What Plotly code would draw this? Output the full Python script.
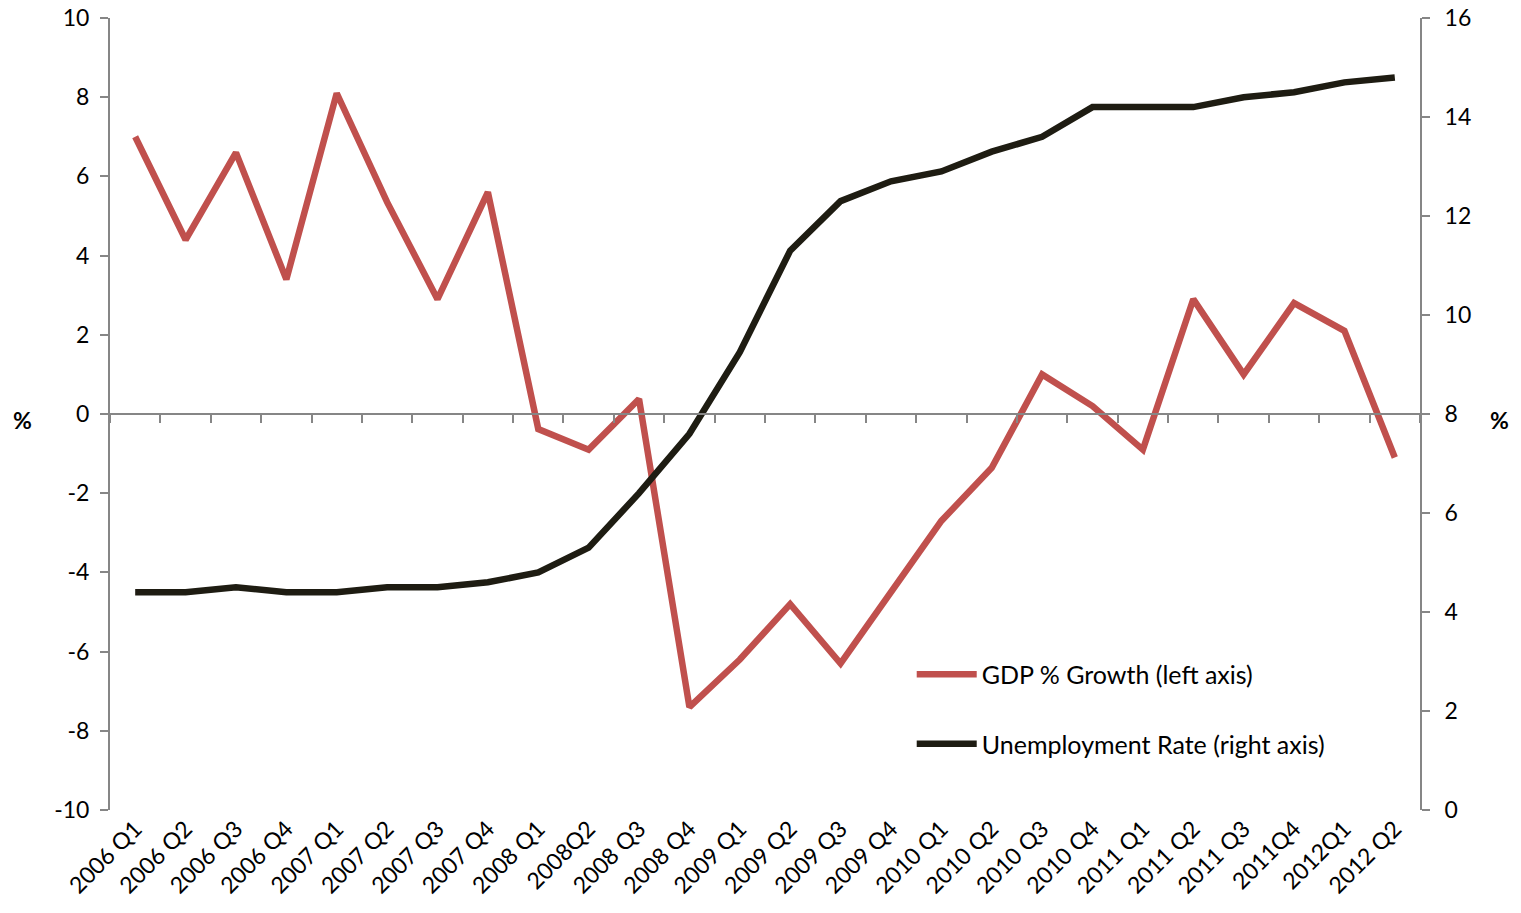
import plotly.graph_objects as go

quarters = [
    "2006 Q1", "2006 Q2", "2006 Q3", "2006 Q4",
    "2007 Q1", "2007 Q2", "2007 Q3", "2007 Q4",
    "2008 Q1", "2008Q2", "2008 Q3", "2008 Q4",
    "2009 Q1", "2009 Q2", "2009 Q3", "2009 Q4",
    "2010 Q1", "2010 Q2", "2010 Q3", "2010 Q4",
    "2011 Q1", "2011 Q2", "2011 Q3", "2011Q4",
    "2012Q1", "2012 Q2",
]
gdp_growth = [
    7.0, 4.4, 6.6, 3.4,
    8.1, 5.35, 2.9, 5.6,
    -0.38, -0.9, 0.38, -7.4,
    -6.2, -4.8, -6.3, -4.5,
    -2.7, -1.36, 1.0, 0.2,
    -0.9, 2.9, 1.0, 2.8,
    2.1, -1.1,
]
unemployment = [
    4.4, 4.4, 4.5, 4.4,
    4.4, 4.5, 4.5, 4.6,
    4.8, 5.3, 6.4, 7.6,
    9.25, 11.3, 12.3, 12.7,
    12.9, 13.3, 13.6, 14.2,
    14.2, 14.2, 14.4, 14.5,
    14.7, 14.8,
]
left_ticks = [-10, -8, -6, -4, -2, 0, 2, 4, 6, 8, 10]
right_ticks = [0, 2, 4, 6, 8, 10, 12, 14, 16]

FONT = "Lato"
AXIS_GREY = "#868686"
RED = "#C0504D"
DARK = "#1E1C12"
TICK_SIZE = 23

fig = go.Figure()
fig.add_trace(go.Scatter(
    x=quarters, y=gdp_growth, mode="lines",
    name="GDP % Growth (left axis)", legendgroup="gdp",
    line=dict(color=RED, width=6.5),
    xaxis="x", yaxis="y",
))
fig.add_trace(go.Scatter(
    x=quarters, y=unemployment, mode="lines",
    name="Unemployment Rate (right axis)", legendgroup="unemp",
    line=dict(color=DARK, width=6.5),
    xaxis="x2", yaxis="y2",
))

fig.update_layout(
    width=1521, height=913,
    margin=dict(l=110, r=101, t=18, b=103),
    paper_bgcolor="white", plot_bgcolor="white",
    font=dict(family=FONT, size=TICK_SIZE, color="black"),
    showlegend=True,
    legend=dict(
        x=0.612, y=0.2, xanchor="left", yanchor="top",
        bgcolor="rgba(0,0,0,0)",
        font=dict(family=FONT, size=25, color="black"),
        traceorder="grouped", tracegroupgap=34, itemwidth=60,
    ),
    xaxis=dict(
        type="category", categoryorder="array", categoryarray=quarters,
        range=[-0.5, len(quarters) - 0.5],
        showline=False, showgrid=False, zeroline=False,
        ticks="", tickangle=-45, tickfont=dict(family=FONT, size=TICK_SIZE),
        anchor="y", automargin=False,
    ),
    # category axis line crossing the left scale at zero
    xaxis2=dict(
        type="category", categoryorder="array", categoryarray=quarters,
        range=[-0.5, len(quarters) - 0.5],
        overlaying="x", anchor="free", position=0.5, side="bottom",
        showline=True, linecolor=AXIS_GREY, linewidth=2,
        ticks="outside", tickson="boundaries", ticklen=8, tickwidth=2,
        tickcolor=AXIS_GREY,
        showticklabels=False, showgrid=False, zeroline=False,
        automargin=False,
    ),
    yaxis=dict(
        range=[-10, 10],
        tickmode="array", tickvals=left_ticks,
        ticktext=[str(v) for v in left_ticks],
        showline=True, linecolor=AXIS_GREY, linewidth=2,
        ticks="outside", ticklen=8, tickwidth=2, tickcolor=AXIS_GREY,
        showgrid=False, zeroline=False,
        tickfont=dict(family=FONT, size=TICK_SIZE), ticklabelstandoff=6,
        anchor="x", automargin=False,
    ),
    yaxis2=dict(
        range=[0, 16],
        tickmode="array", tickvals=right_ticks,
        ticktext=[str(v) for v in right_ticks],
        overlaying="y", side="right", anchor="x2",
        showline=True, linecolor=AXIS_GREY, linewidth=2,
        ticks="outside", ticklen=8, tickwidth=2, tickcolor=AXIS_GREY,
        showgrid=False, zeroline=False,
        tickfont=dict(family=FONT, size=TICK_SIZE), ticklabelstandoff=10,
        automargin=False,
    ),
)

fig.add_annotation(
    text="<b>%</b>", x=-0.0755, y=0.492, xref="paper", yref="paper",
    showarrow=False, font=dict(family=FONT, size=23),
)
fig.add_annotation(
    text="<b>%</b>", x=1.0695, y=0.492, xref="paper", yref="paper",
    showarrow=False, font=dict(family=FONT, size=23),
)

fig.write_html("out.html")
